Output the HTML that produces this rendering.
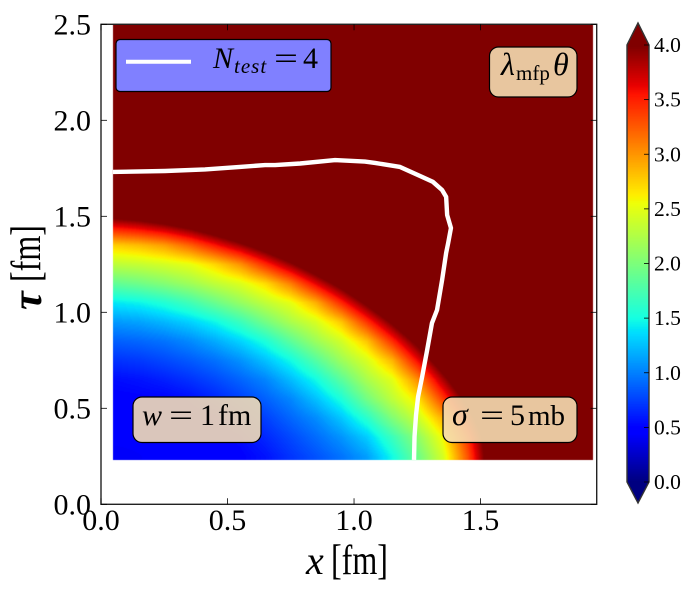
<!DOCTYPE html>
<html lang="en">
<head>
<meta charset="utf-8">
<title>Mean free path heat map</title>
<style>
html,body{margin:0;padding:0;background:#fff;width:692px;height:592px;overflow:hidden}
#chart{position:relative;width:692px;height:592px}
canvas,svg{position:absolute;left:0;top:0}
text{font-family:"Liberation Serif","DejaVu Serif",serif;fill:#000}
.it{font-style:italic}
</style>
</head>
<body>
<div id="chart">
<canvas id="heat" width="692" height="592"></canvas>
<svg id="plot" width="692" height="592" viewBox="0 0 692 592">
  <g id="contour"></g>
  <g id="cbar"></g>
  <g id="frame"></g>

  <g>
    <rect x="116" y="39.5" width="215" height="52" rx="4" fill="#8080ff" stroke="#000" stroke-width="1.2"/>
    <line x1="126" y1="61.7" x2="191" y2="61.7" stroke="#fff" stroke-width="4"/>
    <text x="213" y="68" font-size="30" class="it">N</text>
    <text x="234" y="73" font-size="21" class="it" letter-spacing="1">test</text>
    <text x="274" y="68" font-size="30" textLength="24" lengthAdjust="spacingAndGlyphs">=</text>
    <text x="303" y="68" font-size="30">4</text>
  </g>

  <g>
    <rect x="133" y="397" width="128" height="45.5" rx="9" fill="rgba(245,222,179,0.89)" stroke="#000" stroke-width="1.2"/>
    <text x="142" y="425" font-size="30" class="it">w</text>
    <text x="169" y="425" font-size="30" textLength="24" lengthAdjust="spacingAndGlyphs">=</text>
    <text x="200" y="425" font-size="30">1</text>
    <text x="218" y="425" font-size="30">fm</text>
  </g>

  <g>
    <rect x="443" y="397" width="134" height="45.5" rx="9" fill="rgba(245,222,179,0.89)" stroke="#000" stroke-width="1.2"/>
    <text x="452" y="425" font-size="32" class="it">σ</text>
    <text x="480" y="425" font-size="30" textLength="24" lengthAdjust="spacingAndGlyphs">=</text>
    <text x="510" y="425" font-size="30">5</text>
    <text x="528" y="425" font-size="29">mb</text>
  </g>

  <g>
    <rect x="489.5" y="47" width="87.5" height="50" rx="9" fill="rgba(245,222,179,0.89)" stroke="#000" stroke-width="1.2"/>
    <text x="501" y="75" font-size="32" class="it">λ</text>
    <text x="516" y="80" font-size="21">mfp</text>
    <text x="553" y="75" font-size="32" class="it">θ</text>
  </g>

  <g>
    <text x="306" y="574" font-size="40" class="it">x</text>
    <text x="331" y="574" font-size="42" textLength="57" lengthAdjust="spacingAndGlyphs">[fm]</text>
  </g>
  <g>
    <text transform="translate(41,310) rotate(-90)" font-size="42" class="it" font-weight="bold">τ</text>
    <text transform="translate(40,282) rotate(-90)" font-size="42" textLength="57" lengthAdjust="spacingAndGlyphs">[fm]</text>
  </g>
</svg>
</div>
<script>
// ---- chart data ----
const xTicks = [0.0, 0.5, 1.0, 1.5];
const yTicks = [0.0, 0.5, 1.0, 1.5, 2.0, 2.5];
const cbarTicks = [0.0, 0.5, 1.0, 1.5, 2.0, 2.5, 3.0, 3.5, 4.0];
const xLimits = [0, 1.959];
const yLimits = [0, 2.5];
const cbarLimits = [0, 4];
const imageExtentX = [0.047, 1.946];
const imageExtentY = [0.23, 2.5];

const gridX = [0.05,0.15,0.25,0.35,0.45,0.55,0.65,0.75,0.85,0.95,1.05,1.15,1.25,1.35,1.45,1.55,1.65,1.75,1.85,1.95];
const gridTau = [0.25,0.35,0.45,0.55,0.65,0.75,0.85,0.95,1.05,1.15,1.25,1.35,1.45,1.55,1.65,1.75,1.85,1.95,2.05,2.15,2.25,2.35,2.45];
// values above 4.0 are clipped by the colour scale (the colorbar extends upward)
const lambdaTheta = [
 [.42,.43,.44,.45,.47,.49,.57,.70,.82,.95,1.12,1.48,1.92,2.42,3.30,4.40,5,5,5,5],
 [.44,.44,.45,.47,.48,.53,.65,.78,.92,1.08,1.30,1.68,2.08,2.58,3.45,4.45,5,5,5,5],
 [.46,.46,.47,.49,.52,.63,.75,.90,1.05,1.28,1.60,2.02,2.38,2.90,3.80,4.63,5,5,5,5],
 [.48,.49,.50,.55,.64,.75,.88,1.03,1.26,1.54,1.96,2.32,2.66,3.38,4.18,5,5,5,5,5],
 [.54,.57,.62,.69,.78,.89,1.02,1.24,1.49,1.84,2.22,2.50,3.04,3.84,4.62,5.4,5.4,5.4,5.4,5.4],
 [.69,.72,.78,.85,.94,1.07,1.26,1.49,1.81,2.16,2.45,2.87,3.60,4.34,5.1,5.4,5.4,5.4,5.4,5.4],
 [.87,.90,.95,1.04,1.17,1.33,1.54,1.85,2.16,2.42,2.80,3.45,4.15,4.9,5.4,5.4,5.4,5.4,5.4,5.4],
 [1.10,1.14,1.22,1.32,1.47,1.68,1.96,2.23,2.45,2.80,3.42,4.07,4.76,5.5,5.5,5.5,5.5,5.5,5.5,5.5],
 [1.41,1.46,1.56,1.71,1.91,2.12,2.33,2.52,2.90,3.48,4.10,4.74,5.4,5.5,5.5,5.5,5.5,5.5,5.5,5.5],
 [1.87,1.94,2.04,2.17,2.33,2.47,2.71,3.11,3.66,4.20,4.80,5.4,5.5,5.5,5.5,5.5,5.5,5.5,5.5,5.5],
 [2.32,2.36,2.43,2.52,2.73,3.02,3.47,3.93,4.43,5.0,5.6,5.6,5.6,5.6,5.6,5.6,5.6,5.6,5.6,5.6],
 [2.77,2.85,2.98,3.23,3.56,3.90,4.30,4.75,5.25,5.8,5.8,5.8,5.8,5.8,5.8,5.8,5.8,5.8,5.8,5.8],
 [3.65,3.75,3.91,4.14,4.43,4.77,5.2,5.6,5.9,5.9,5.9,5.9,5.9,5.9,5.9,5.9,5.9,5.9,5.9,5.9],
 [4.57,4.66,4.83,5.05,5.3,5.7,6,6,6,6,6,6,6,6,6,6,6,6,6,6],
 [5.5,5.6,5.7,6,6,6,6,6,6,6,6,6,6,6,6,6,6,6,6,6],
 [6,6,6,6,6,6,6,6,6,6,6,6,6,6,6,6,6,6,6,6],
 [6,6,6,6,6,6,6,6,6,6,6,6,6,6,6,6,6,6,6,6],
 [6,6,6,6,6,6,6,6,6,6,6,6,6,6,6,6,6,6,6,6],
 [6,6,6,6,6,6,6,6,6,6,6,6,6,6,6,6,6,6,6,6],
 [6,6,6,6,6,6,6,6,6,6,6,6,6,6,6,6,6,6,6,6],
 [6,6,6,6,6,6,6,6,6,6,6,6,6,6,6,6,6,6,6,6],
 [6,6,6,6,6,6,6,6,6,6,6,6,6,6,6,6,6,6,6,6],
 [6,6,6,6,6,6,6,6,6,6,6,6,6,6,6,6,6,6,6,6]
];
const contourX = [0.047,0.253,0.411,0.549,0.648,0.688,0.787,0.925,1.043,1.083,1.182,1.261,1.312,1.348,1.364,1.368,1.383,1.372,1.364,1.348,1.328,1.308,1.289,1.269,1.253,1.245,1.239,1.237];
const contourTau = [1.731,1.736,1.744,1.757,1.767,1.767,1.775,1.793,1.785,1.778,1.757,1.710,1.679,1.637,1.601,1.507,1.439,1.361,1.309,1.168,1.012,0.944,0.804,0.663,0.559,0.465,0.351,0.231];

// ---- axis functions ----
const axLeft = 101, axRight = 596.7, axTop = 24.3, axBottom = 504.3;
const cbLeft = 627, cbRight = 649, cbTop = 45, cbBottom = 482, cbTipTop = 23, cbTipBottom = 503;
const xScale = v => axLeft + (v - xLimits[0]) / (xLimits[1] - xLimits[0]) * (axRight - axLeft);
const yScale = v => axBottom - (v - yLimits[0]) / (yLimits[1] - yLimits[0]) * (axBottom - axTop);
const xInvert = p => xLimits[0] + (p - axLeft) / (axRight - axLeft) * (xLimits[1] - xLimits[0]);
const yInvert = p => yLimits[0] + (axBottom - p) / (axBottom - axTop) * (yLimits[1] - yLimits[0]);
const cScale = v => cbBottom - (v - cbarLimits[0]) / (cbarLimits[1] - cbarLimits[0]) * (cbBottom - cbTop);

function ramp(t, pts) {
  for (let i = 1; i < pts.length; i++) {
    if (t <= pts[i][0]) {
      const a = pts[i - 1], b = pts[i];
      return a[1] + (b[1] - a[1]) * (t - a[0]) / (b[0] - a[0]);
    }
  }
  return pts[pts.length - 1][1];
}
const jetR = [[0,0],[0.35,0],[0.66,1],[0.89,1],[1,0.5]];
const jetG = [[0,0],[0.125,0],[0.375,1],[0.64,1],[0.91,0],[1,0]];
const jetB = [[0,0.5],[0.11,1],[0.34,1],[0.65,0],[1,0]];
function jet(value) {
  const t = Math.max(0, Math.min(1, (value - cbarLimits[0]) / (cbarLimits[1] - cbarLimits[0])));
  const q = Math.round(t * 255) / 255;
  return [ramp(q, jetR) * 255, ramp(q, jetG) * 255, ramp(q, jetB) * 255].map(Math.round);
}
function locate(arr, v) {
  if (v <= arr[0]) return [0, 0, 0];
  const n = arr.length - 1;
  if (v >= arr[n]) return [n, n, 0];
  let i = 0;
  while (arr[i + 1] < v) i++;
  return [i, i + 1, (v - arr[i]) / (arr[i + 1] - arr[i])];
}

// ---- heatmap ----
const heatCanvas = document.getElementById('heat');
const ctx = heatCanvas.getContext('2d');
const px0 = Math.round(xScale(imageExtentX[0]));
const px1 = Math.round(xScale(imageExtentX[1]));
const py0 = Math.round(yScale(imageExtentY[1]));
const py1 = Math.round(yScale(imageExtentY[0]));
const img = ctx.createImageData(px1 - px0, py1 - py0);
for (let py = py0; py < py1; py++) {
  const [r0, r1, rf] = locate(gridTau, yInvert(py + 0.5));
  for (let px = px0; px < px1; px++) {
    const [c0, c1, cf] = locate(gridX, xInvert(px + 0.5));
    const v = (lambdaTheta[r0][c0] * (1 - cf) + lambdaTheta[r0][c1] * cf) * (1 - rf)
            + (lambdaTheta[r1][c0] * (1 - cf) + lambdaTheta[r1][c1] * cf) * rf;
    const col = jet(v);
    const k = ((py - py0) * (px1 - px0) + (px - px0)) * 4;
    img.data[k] = col[0];
    img.data[k + 1] = col[1];
    img.data[k + 2] = col[2];
    img.data[k + 3] = 255;
  }
}
ctx.putImageData(img, px0, py0);

// ---- svg helpers ----
const NS = 'http://www.w3.org/2000/svg';
function make(tag, attrs, parent) {
  const el = document.createElementNS(NS, tag);
  for (const k in attrs) el.setAttribute(k, attrs[k]);
  parent.appendChild(el);
  return el;
}

// ---- contour ----
const contourLayer = document.getElementById('contour');
const contourPath = make('polyline', {
  points: contourX.map((x, i) => xScale(x).toFixed(2) + ',' + yScale(contourTau[i]).toFixed(2)).join(' '),
  fill: 'none', stroke: '#fff', 'stroke-width': 4.4, 'stroke-linejoin': 'round'
}, contourLayer);



// ---- frame and ticks ----
const frameLayer = document.getElementById('frame');
const frameRect = make('rect', {
  x: axLeft, y: axTop, width: axRight - axLeft, height: axBottom - axTop,
  fill: 'none', stroke: '#222', 'stroke-width': 1.4
}, frameLayer);



xTicks.forEach(t => {
  const x = xScale(t);
  const low = make('line', { x1: x, x2: x, y1: axBottom, y2: axBottom - 6, stroke: '#000', 'stroke-width': 0.8 }, frameLayer);
  
  
  const high = make('line', { x1: x, x2: x, y1: axTop, y2: axTop + 6, stroke: '#000', 'stroke-width': 0.8 }, frameLayer);
  
  
  const label = make('text', { x: x, y: 530, 'font-size': 30, 'text-anchor': 'middle' }, frameLayer);
  label.textContent = t.toFixed(1);
  
  
});
yTicks.forEach(t => {
  const y = yScale(t);
  const left = make('line', { x1: axLeft, x2: axLeft + 6, y1: y, y2: y, stroke: '#000', 'stroke-width': 0.8 }, frameLayer);
  
  
  const right = make('line', { x1: axRight, x2: axRight - 6, y1: y, y2: y, stroke: '#000', 'stroke-width': 0.8 }, frameLayer);
  
  
  const label = make('text', { x: 91, y: y + 10, 'font-size': 30, 'text-anchor': 'end' }, frameLayer);
  label.textContent = t.toFixed(1);
  
  
});

// ---- colorbar ----
const cbarLayer = document.getElementById('cbar');
const levels = 256;
for (let i = 0; i < levels; i++) {
  const v0 = cbarLimits[0] + (cbarLimits[1] - cbarLimits[0]) * i / levels;
  const v1 = cbarLimits[0] + (cbarLimits[1] - cbarLimits[0]) * (i + 1) / levels;
  const c = jet((v0 + v1) / 2);
  const band = make('rect', {
    x: cbLeft, y: cScale(v1), width: cbRight - cbLeft, height: cScale(v0) - cScale(v1) + 0.6,
    fill: 'rgb(' + c.join(',') + ')'
  }, cbarLayer);
  
  
}
const tipTop = make('polygon', {
  points: cbLeft + ',' + cbTop + ' ' + (cbLeft + cbRight) / 2 + ',' + cbTipTop + ' ' + cbRight + ',' + cbTop,
  fill: 'rgb(' + jet(cbarLimits[1]).join(',') + ')'
}, cbarLayer);


const tipBottom = make('polygon', {
  points: cbLeft + ',' + cbBottom + ' ' + (cbLeft + cbRight) / 2 + ',' + cbTipBottom + ' ' + cbRight + ',' + cbBottom,
  fill: 'rgb(' + jet(cbarLimits[0]).join(',') + ')'
}, cbarLayer);


const cbOutline = make('polygon', {
  points: [[cbLeft, cbTop], [(cbLeft + cbRight) / 2, cbTipTop], [cbRight, cbTop], [cbRight, cbBottom], [(cbLeft + cbRight) / 2, cbTipBottom], [cbLeft, cbBottom]].map(p => p.join(',')).join(' '),
  fill: 'none', stroke: '#333', 'stroke-width': 1.4
}, cbarLayer);


cbarTicks.forEach(t => {
  const y = cScale(t);
  const tick = make('line', { x1: cbRight - 5, x2: cbRight, y1: y, y2: y, stroke: '#000', 'stroke-width': 0.8 }, cbarLayer);
  
  
  const label = make('text', { x: 654, y: y + 7, 'font-size': 21.5 }, cbarLayer);
  label.textContent = t.toFixed(1);
  
  
});
</script>
</body>
</html>
